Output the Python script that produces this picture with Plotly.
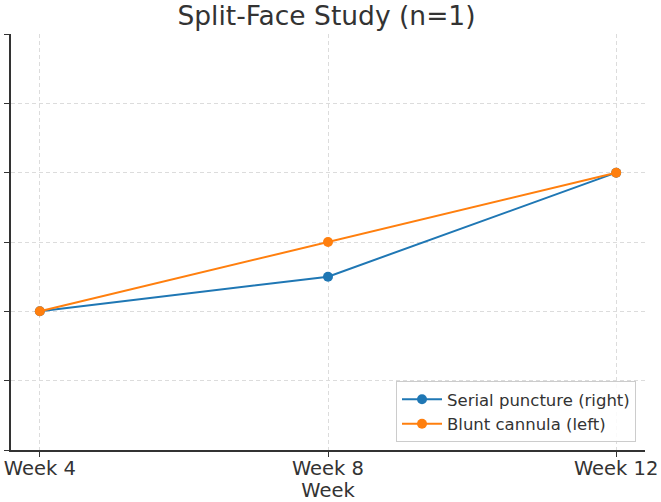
import plotly.graph_objects as go

weeks = ["Week 4", "Week 8", "Week 12"]
serial_puncture = [2, 2.5, 4]
blunt_cannula = [2, 3, 4]

W, H = 661, 502
L, R, T, B = 11, 16, 34, 52
font = "DejaVu Sans"

fig = go.Figure()
fig.add_trace(go.Scatter(x=weeks, y=serial_puncture, mode="lines+markers",
                         name="Serial puncture (right)",
                         line=dict(color="#1f77b4", width=2),
                         marker=dict(size=10, color="#1f77b4")))
fig.add_trace(go.Scatter(x=weeks, y=blunt_cannula, mode="lines+markers",
                         name="Blunt cannula (left)",
                         line=dict(color="#ff7f0e", width=2),
                         marker=dict(size=10, color="#ff7f0e")))

fig.update_layout(
    width=W, height=H,
    margin=dict(l=L, r=R, t=T, b=B),
    plot_bgcolor="white", paper_bgcolor="white",
    font=dict(family=font, color="#333333"),
    title=dict(text="Split-Face Study (n=1)", x=326.5 / W, xanchor="center",
               y=1 - 16 / H, yanchor="middle", yref="container",
               font=dict(size=26.5, color="#333333", family=font)),
    xaxis=dict(type="category", range=[-0.1, 2.1], automargin=False,
               showline=True, linecolor="#333333", linewidth=1.5,
               ticks="outside", ticklen=5, tickcolor="#333333",
               ticklabelstandoff=-5,
               tickfont=dict(size=19.5, color="#333333"),
               showgrid=True, gridcolor="#dcdcdc", griddash="4px,3px", gridwidth=1,
               title=dict(text="Week", font=dict(size=19.5, color="#333333"), standoff=0),
               zeroline=False),
    yaxis=dict(range=[0, 6], tickvals=[0, 1, 2, 3, 4, 5, 6], automargin=False,
               showticklabels=False,
               showline=True, linecolor="#333333", linewidth=1.5,
               ticks="outside", ticklen=5, tickcolor="#333333",
               showgrid=True, gridcolor="#dcdcdc", griddash="4px,3px", gridwidth=1,
               zeroline=False),
    legend=dict(x=(636 - L) / (W - L - R), xanchor="right",
                y=(450 - 442) / (502 - T - B), yanchor="bottom",
                bgcolor="rgba(255,255,255,0.85)", bordercolor="#cccccc", borderwidth=1,
                font=dict(size=16.5, color="#333333"), itemwidth=40),
    showlegend=True,
)

fig.write_html("out.html")
